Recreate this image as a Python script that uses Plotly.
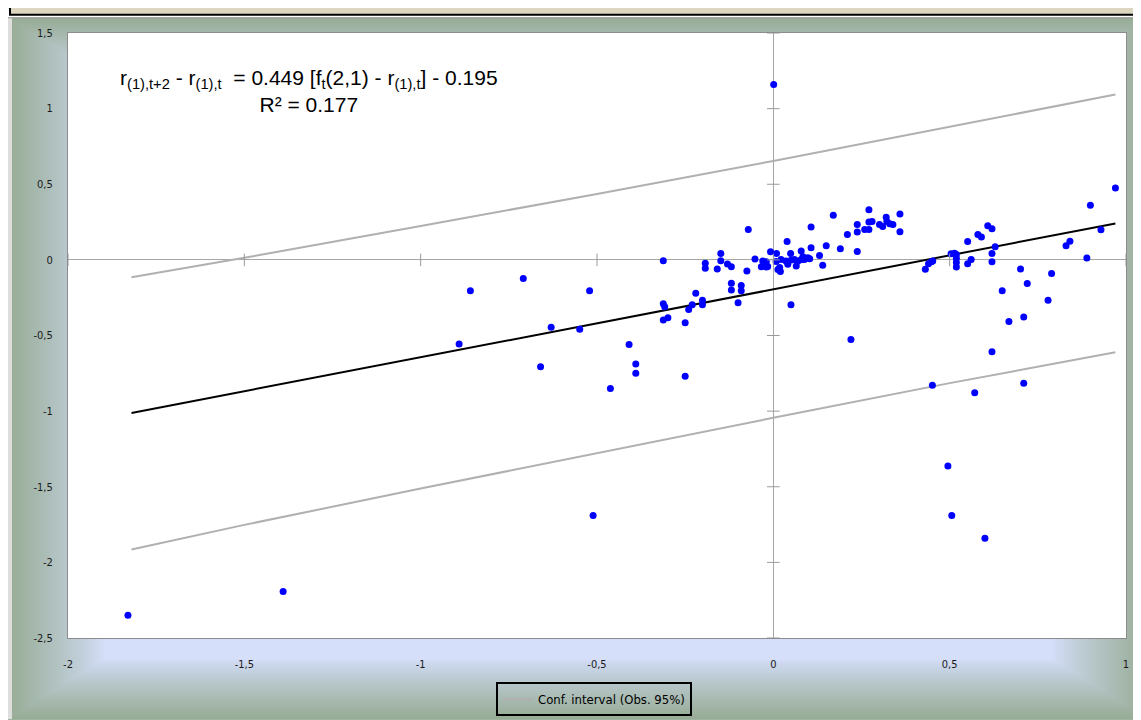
import base64
import struct
import zlib

import numpy as np
import plotly.graph_objects as go

# ---------------- data ----------------
obs_x = [-1.830, -1.390, -0.891, -0.859, -0.709, -0.660, -0.630, -0.549, -0.521, -0.511,
         -0.462, -0.409, -0.390, -0.390, -0.312, -0.312, -0.308, -0.312, -0.299, -0.250,
         -0.250, -0.240, -0.230, -0.220, -0.201, -0.201, -0.193, -0.193, -0.149, -0.149,
         -0.159, -0.130, -0.119, -0.119, -0.119, -0.091, -0.091, -0.100, -0.071, -0.075,
         -0.052, -0.034, -0.020, -0.020, -0.030, -0.025, -0.016, -0.008, 0.001, 0.008,
         0.009, 0.013, 0.020, 0.018, 0.022, 0.036, 0.039, 0.041, 0.049, 0.051,
         0.050, 0.060, 0.065, 0.070, 0.079, 0.079, 0.084, 0.088, 0.098, 0.103,
         0.107, 0.107, 0.131, 0.140, 0.150, 0.170, 0.190, 0.210, 0.220, 0.238,
         0.238, 0.238, 0.259, 0.271, 0.271, 0.280, 0.271, 0.301, 0.310, 0.320,
         0.322, 0.330, 0.339, 0.359, 0.359, 0.431, 0.440, 0.448, 0.452, 0.451,
         0.495, 0.504, 0.506, 0.514, 0.519, 0.519, 0.519, 0.519, 0.551, 0.551,
         0.561, 0.571, 0.580, 0.590, 0.600, 0.608, 0.620, 0.620, 0.620, 0.629,
         0.620, 0.649, 0.668, 0.701, 0.710, 0.710, 0.720, 0.779, 0.789, 0.830,
         0.841, 0.889, 0.899, 0.929, 0.970]
obs_y = [-2.350, -2.193, -0.557, -0.204, -0.123, -0.707, -0.446, -0.459, -0.204, -1.690,
         -0.851, -0.559, -0.688, -0.750, -0.005, -0.290, -0.310, -0.397, -0.382, -0.770,
         -0.415, -0.328, -0.297, -0.221, -0.267, -0.297, -0.023, -0.056, 0.042, -0.005,
         -0.060, -0.027, -0.045, -0.154, -0.199, -0.169, -0.204, -0.284, 0.201, -0.073,
         0.005, -0.045, -0.012, -0.047, -0.008, -0.034, -0.044, 0.054, 1.160, -0.010,
         0.042, -0.064, -0.077, -0.051, 0.003, -0.008, 0.121, -0.029, 0.042, -0.001,
         -0.297, 0.003, -0.041, -0.008, 0.003, 0.058, 0.021, 0.003, 0.014, 0.008,
         0.217, 0.080, 0.029, -0.036, 0.093, 0.295, 0.073, 0.167, -0.526, 0.234,
         0.184, 0.056, 0.201, 0.201, 0.250, 0.254, 0.332, 0.234, 0.221, 0.282,
         0.254, 0.239, 0.234, 0.304, 0.186, -0.062, -0.025, -0.012, -0.008, -0.829,
         -1.363, 0.040, -1.690, 0.044, 0.036, 0.010, -0.018, -0.047, 0.121, -0.025,
         0.003, -0.879, 0.167, 0.152, -1.840, 0.225, 0.206, 0.042, -0.012, 0.086,
         -0.607, -0.204, -0.408, -0.060, -0.378, -0.816, -0.156, -0.267, -0.090, 0.093,
         0.123, 0.012, 0.361, 0.199, 0.476]

reg_x = [-1.82, 0.97]
reg_y = [-1.012, 0.241]

ci_x = [-1.82, -1.5, -1.0, -0.5, 0.0, 0.5, 0.97]
ci_upper = [-0.115, 0.014, 0.224, 0.436, 0.654, 0.878, 1.093]
ci_lower = [-1.915, -1.752, -1.512, -1.276, -1.044, -0.815, -0.611]

x_ticks = [-2, -1.5, -1, -0.5, 0, 0.5, 1]
x_ticktext = ["-2", "-1,5", "-1", "-0,5", "0", "0,5", "1"]
y_ticks = [1.5, 1, 0.5, 0, -0.5, -1, -1.5, -2, -2.5]
y_ticktext = ["1,5", "1", "0,5", "0", "-0,5", "-1", "-1,5", "-2", "-2,5"]

legend_name = "Conf. interval (Obs. 95%)"
equation = ("r<sub>(1),t+2</sub> - r<sub>(1),t</sub>\u00a0\u00a0= 0.449 [f<sub>t</sub>(2,1) - "
            "r<sub>(1),t</sub>] - 0.195<br>R² = 0.177")

# ---------------- layout geometry (pixels) ----------------
W, H = 1141, 720
PL, PR, PT, PB = 60, 1118, 25, 638
pw, ph = PR - PL, PB - PT


def px(x):
    return (x - PL) / pw


def py(y):
    return (PB - y) / ph


# ---------------- background gradient image ----------------
def gradient_png():
    w, h = W, H
    top = 9
    cx, cy = w / 2.0, (top + h) / 2.0
    hw, hh = w / 2.0, (h - top) / 2.0
    xs = (np.arange(w) + 0.5 - cx) / hw
    ys = (np.arange(h) + 0.5 - cy) / hh
    t = np.maximum(np.abs(xs)[None, :], np.abs(ys)[:, None])
    s = np.clip((t - 0.83) / 0.17, 0, 1)
    s = s ** 0.85
    blue = np.array([213, 223, 250], float)
    green = np.array([151, 172, 149], float)
    img = blue[None, None, :] * (1 - s[..., None]) + green[None, None, :] * s[..., None]
    img = img.astype(np.uint8)
    img[:top, :, :] = 255
    img[top, :, :] = 140
    raw = np.zeros((h, w * 3 + 1), np.uint8)
    raw[:, 1:] = img.reshape(h, -1)

    def chunk(tag, data):
        return (struct.pack(">I", len(data)) + tag + data +
                struct.pack(">I", zlib.crc32(tag + data) & 0xFFFFFFFF))

    png = (b"\x89PNG\r\n\x1a\n" +
           chunk(b"IHDR", struct.pack(">IIBBBBB", w, h, 8, 2, 0, 0, 0)) +
           chunk(b"IDAT", zlib.compress(raw.tobytes(), 9)) +
           chunk(b"IEND", b""))
    return "data:image/png;base64," + base64.b64encode(png).decode()


NARROW = "DejaVu Sans Condensed, Liberation Sans Narrow, Arial Narrow, sans-serif"

fig = go.Figure()

# confidence interval (one legend entry)
fig.add_trace(go.Scatter(
    x=ci_x + [None] + ci_x, y=ci_upper + [None] + ci_lower,
    mode="lines", name=legend_name, connectgaps=False,
    line=dict(color="#b0b0b0", width=2), showlegend=True))

# regression line
fig.add_trace(go.Scatter(x=reg_x, y=reg_y, mode="lines",
                         line=dict(color="black", width=2), showlegend=False))

# observations
fig.add_trace(go.Scatter(x=obs_x, y=obs_y, mode="markers",
                         marker=dict(color="#0000ff", size=7), showlegend=False))

# tick marks crossing the zero axes
fig.add_trace(go.Scatter(x=[0] * len(y_ticks), y=y_ticks, mode="markers", hoverinfo="skip",
                         marker=dict(symbol="line-ew", size=9, line=dict(color="#9a9a9a", width=1)),
                         showlegend=False))
fig.add_trace(go.Scatter(x=x_ticks, y=[0] * len(x_ticks), mode="markers", hoverinfo="skip",
                         marker=dict(symbol="line-ns", size=9, line=dict(color="#9a9a9a", width=1)),
                         showlegend=False))

tick_font = dict(family=NARROW, size=11, color="#1a1a1a")

fig.update_xaxes(range=[-2, 1], tickvals=x_ticks, ticktext=x_ticktext, showgrid=False,
                 zeroline=True, zerolinecolor="#a6a6a6", zerolinewidth=1,
                 showline=True, mirror=True, linecolor="#8c8c8c", linewidth=1,
                 ticks="", tickfont=tick_font, ticklabelstandoff=16)
fig.update_yaxes(range=[-2.5, 1.5], tickvals=y_ticks, ticktext=y_ticktext, showgrid=False,
                 zeroline=True, zerolinecolor="#a6a6a6", zerolinewidth=1,
                 showline=True, mirror=True, linecolor="#8c8c8c", linewidth=1,
                 ticks="", tickfont=tick_font, ticklabelstandoff=12)

eq_font = dict(family="Liberation Sans, Arial, sans-serif", size=21, color="black")
fig.add_annotation(xref="paper", yref="paper", x=px(301), y=py(84),
                   text=equation, showarrow=False, align="center",
                   xanchor="center", yanchor="middle", font=eq_font)

fig.add_layout_image(dict(source=gradient_png(), xref="paper", yref="paper",
                          x=px(0), y=py(0), sizex=W / pw, sizey=H / ph,
                          xanchor="left", yanchor="top", sizing="stretch", layer="below"))

# white plot area above the background image
fig.add_shape(type="rect", xref="paper", yref="paper", x0=0, x1=1, y0=0, y1=1,
              fillcolor="white", line=dict(width=0), layer="below")
# title box at top and thin light strip at left edge
fig.add_shape(type="rect", xref="paper", yref="paper", x0=px(2), x1=px(1132), y0=py(-6), y1=py(6.5),
              fillcolor="#ddd7c1", line=dict(color="black", width=2), layer="above")
fig.add_shape(type="rect", xref="paper", yref="paper", x0=px(0), x1=px(4), y0=py(10), y1=py(720),
              fillcolor="#dedede", line=dict(width=0), layer="above")

fig.update_layout(
    width=W, height=H,
    margin=dict(l=PL, r=W - PR, t=PT, b=H - PB),
    paper_bgcolor="#a0b4a2", plot_bgcolor="white",
    showlegend=True,
    legend=dict(x=px(684), y=py(700), xanchor="right", yanchor="middle",
                bgcolor="rgba(0,0,0,0)", bordercolor="black", borderwidth=2,
                font=dict(family=NARROW, size=13, color="black")),
)

fig.write_html("out.html")
